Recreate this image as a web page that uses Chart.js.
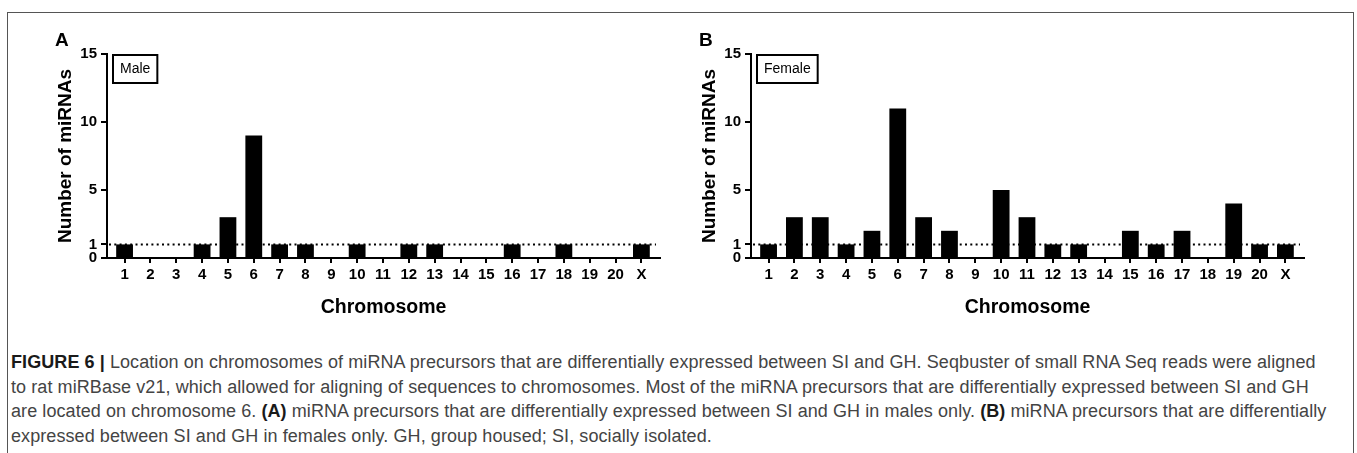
<!DOCTYPE html>
<html><head><meta charset="utf-8">
<script src="https://cdn.jsdelivr.net/npm/chart.js@4.4.1/dist/chart.umd.min.js"></script>
<style>
html,body{margin:0;padding:0;background:#fff;width:1357px;height:453px;overflow:hidden;font-family:"Liberation Sans",Arial,sans-serif;}
#frame{position:absolute;left:7px;top:12px;width:1347px;height:520px;border:1.5px solid #555;box-sizing:border-box;}
canvas{position:absolute;top:0;}
#cA{left:0px}
#cB{left:644px}
.panel{position:absolute;font-weight:bold;font-size:19px;line-height:1;color:#000;}
#caption{position:absolute;left:11px;top:350px;font-size:18px;line-height:24.5px;letter-spacing:0.08px;color:#444;white-space:nowrap;}
#caption b{color:#1a1a1a}
</style></head><body>
<div id="frame"></div>
<canvas id="cA" width="680" height="340"></canvas>
<canvas id="cB" width="680" height="340"></canvas>
<div class="panel" style="left:55px;top:30px">A</div>
<div class="panel" style="left:699px;top:30px">B</div>
<div id="caption">
<div><b>FIGURE 6 |</b> Location on chromosomes of miRNA precursors that are differentially expressed between SI and GH. Seqbuster of small RNA Seq reads were aligned</div>
<div>to rat miRBase v21, which allowed for aligning of sequences to chromosomes. Most of the miRNA precursors that are differentially expressed between SI and GH</div>
<div>are located on chromosome 6. <b>(A)</b> miRNA precursors that are differentially expressed between SI and GH in males only. <b>(B)</b> miRNA precursors that are differentially</div>
<div>expressed between SI and GH in females only. GH, group housed; SI, socially isolated.</div>
</div>
<script>
const chromosomes = ["1","2","3","4","5","6","7","8","9","10","11","12","13","14","15","16","17","18","19","20","X"];
const maleCounts   = [1,0,0,1,3,9,1,1,0,1,0,1,1,0,0,1,0,1,0,0,1];
const femaleCounts = [1,3,3,1,2,11,3,2,0,5,3,1,1,0,2,1,2,0,4,1,1];
const yTickValues = [0,1,5,10,15];
const thresholdValue = 1;
const yAxisTitle = "Number of miRNAs";
const xAxisTitle = "Chromosome";

const FONT = '"Liberation Sans", Arial, sans-serif';

const thresholdPlugin = {
  id: 'threshold',
  beforeDatasetsDraw(chart) {
    const {ctx, chartArea, scales} = chart;
    const y = scales.y.getPixelForValue(thresholdValue);
    ctx.save();
    ctx.strokeStyle = '#000';
    ctx.lineWidth = 2;
    ctx.setLineDash([2, 3.3]);
    ctx.beginPath();
    ctx.moveTo(chartArea.left + 2, y);
    ctx.lineTo(chartArea.right - 4, y);
    ctx.stroke();
    ctx.restore();
  }
};

const boxLabelPlugin = {
  id: 'boxLabel',
  afterDatasetsDraw(chart, args, opts) {
    const {ctx, chartArea} = chart;
    ctx.save();
    ctx.font = '14px ' + FONT;
    const w = ctx.measureText(opts.text).width + 14;
    const h = 28;
    const x = chartArea.left + 6, y = chartArea.top + 1;
    ctx.fillStyle = '#fff';
    ctx.fillRect(x, y, w, h);
    ctx.strokeStyle = '#000';
    ctx.lineWidth = 2;
    ctx.strokeRect(x, y, w, h);
    ctx.fillStyle = '#000';
    ctx.textBaseline = 'middle';
    ctx.fillText(opts.text, x + 7, y + h / 2 + 0.5);
    ctx.restore();
  }
};

function makeChart(id, values, label) {
  return new Chart(document.getElementById(id), {
    type: 'bar',
    data: {
      datasets: [{
        label: label,
        data: values.map((v, i) => ({x: i, y: v})),
        backgroundColor: '#000',
        borderWidth: 0,
        categoryPercentage: 1,
        barPercentage: 0.65
      }]
    },
    options: {
      responsive: false,
      animation: false,
      devicePixelRatio: 1,
      layout: {padding: {left: 50, top: 54, right: 20, bottom: 17}},
      plugins: {
        legend: {display: false},
        tooltip: {enabled: false},
        boxLabel: {text: label}
      },
      scales: {
        x: {
          type: 'linear',
          offset: false,
          min: -0.68,
          max: 20.72,
          afterBuildTicks: s => { s.ticks = chromosomes.map((c, i) => ({value: i})); },
          afterFit: s => { s.height = 65; },
          ticks: {
            callback: (v, i) => chromosomes[i],
            autoSkip: false, maxRotation: 0, minRotation: 0,
            color: '#000', padding: 3,
            font: {family: FONT, size: 15, weight: 'bold'}
          },
          grid: {offset: false, drawOnChartArea: false, drawTicks: true, tickLength: 5, color: '#000', lineWidth: 2},
          border: {display: true, color: '#000', width: 2},
          title: {display: true, text: xAxisTitle, color: '#000', padding: {top: 0, bottom: 4},
                  font: {family: FONT, size: 19.5, weight: 'bold'}}
        },
        y: {
          min: 0, max: 15,
          afterBuildTicks: s => { s.ticks = yTickValues.map(v => ({value: v})); },
          afterFit: s => { s.width = 57; },
          ticks: {color: '#000', padding: 4, font: {family: FONT, size: 15, weight: 'bold'}},
          grid: {drawOnChartArea: false, drawTicks: true, tickLength: 6, color: '#000', lineWidth: 2},
          border: {display: true, color: '#000', width: 2},
          title: {display: true, text: yAxisTitle, color: '#000', padding: {top: 4, bottom: 4},
                  font: {family: FONT, size: 19, weight: 'bold'}}
        }
      }
    },
    plugins: [thresholdPlugin, boxLabelPlugin]
  });
}

makeChart('cA', maleCounts, 'Male');
makeChart('cB', femaleCounts, 'Female');
</script>
</body></html>
